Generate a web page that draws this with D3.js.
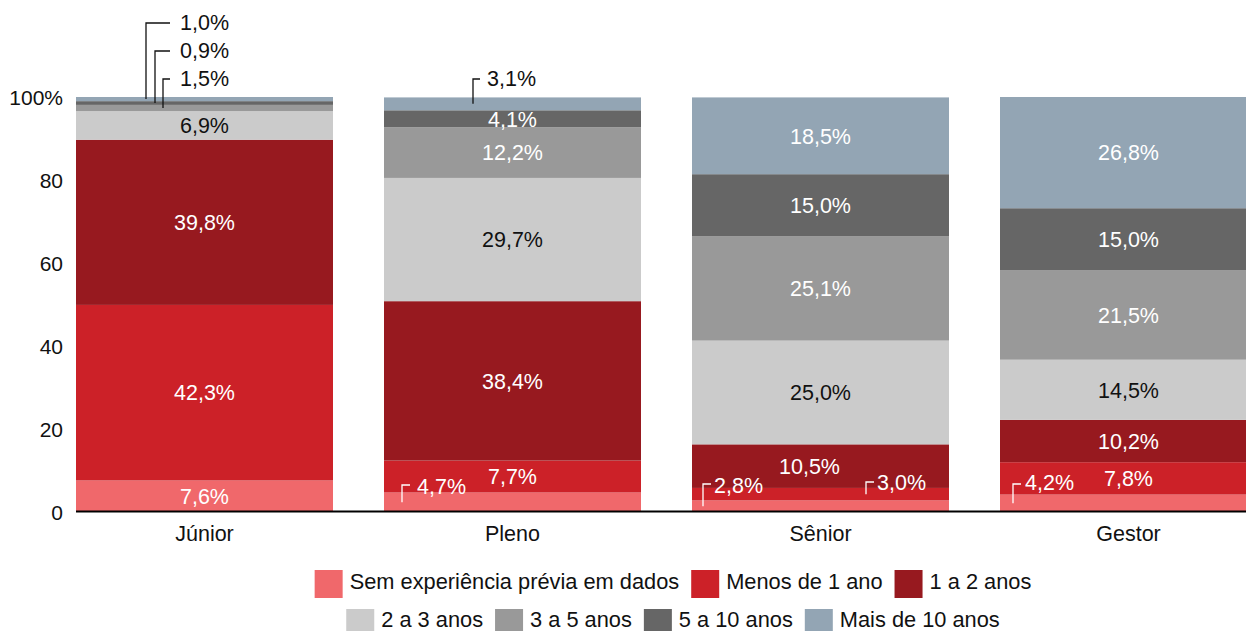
<!DOCTYPE html>
<html>
<head>
<meta charset="utf-8">
<script src="https://cdn.jsdelivr.net/npm/d3@7"></script>
<style>
    body { margin: 0; background: #fff; }
    svg { display: block; font-family: 'Liberation Sans', Arial, sans-serif; }
</style>
</head>
<body>
<script>
var categories = ['Júnior', 'Pleno', 'Sênior', 'Gestor'];
var seriesNames = ['Sem experiência prévia em dados', 'Menos de 1 ano', '1 a 2 anos',
    '2 a 3 anos', '3 a 5 anos', '5 a 10 anos', 'Mais de 10 anos'];
var semExperiencia = [7.6, 4.7, 2.8, 4.2];
var menosDe1Ano = [42.3, 7.7, 3.0, 7.8];
var de1a2Anos = [39.8, 38.4, 10.5, 10.2];
var de2a3Anos = [6.9, 29.7, 25.0, 14.5];
var de3a5Anos = [1.5, 12.2, 25.1, 21.5];
var de5a10Anos = [0.9, 4.1, 15.0, 15.0];
var maisDe10Anos = [1.0, 3.1, 18.5, 26.8];
var yTicks = [0, 20, 40, 60, 80, 100];

var colors = ['#f0686b', '#cc2128', '#97191f', '#cbcbcb', '#999999', '#666666', '#93a5b4'];
var labelColors = ['#fff', '#fff', '#fff', '#111', '#fff', '#fff', '#fff'];
var fs = '21.5px';

// small segments get a leader line instead of a centred label (layout only)
var callouts = {
    '4|Júnior': { lx: 163, ey: 79, ex: 170, tx: 180, ty: 86, color: '#111' },
    '5|Júnior': { lx: 155, ey: 51, ex: 170, tx: 180, ty: 58, color: '#111' },
    '6|Júnior': { lx: 146, ey: 23, ex: 170, tx: 180, ty: 30, color: '#111' },
    '6|Pleno': { lx: 473, ey: 79, ex: 480, tx: 487, ty: 86, color: '#111' },
    '0|Pleno': { lx: 402, ey: 485, ex: 410, tx: 417, ty: 494, color: '#fff' },
    '0|Sênior': { lx: 703, ey: 484, ex: 711, tx: 714, ty: 493, color: '#fff' },
    '1|Sênior': { lx: 866, ey: 482, ex: 874, tx: 877, ty: 490, color: '#fff' },
    '0|Gestor': { lx: 1013, ey: 484, ex: 1021, tx: 1025, ty: 490, color: '#fff' }
};
var labelShift = { '2|Sênior': -11 };

var allSeries = [semExperiencia, menosDe1Ano, de1a2Anos, de2a3Anos, de3a5Anos, de5a10Anos, maisDe10Anos];
var rows = categories.map(function(c, i) {
    var r = { cat: c };
    allSeries.forEach(function(s, k) { r[k] = s[i]; });
    return r;
});

var width = 1246, height = 631;
var svg = d3.select('body').append('svg').attr('width', width).attr('height', height);

var x = d3.scaleBand().domain(categories).range([76, 1257]).paddingInner(51 / 308).paddingOuter(0);
var y = d3.scaleLinear().domain([0, 100]).range([512, 97]);

var stack = d3.stack().keys(d3.range(7));
var layers = stack(rows);

var fmt = function(v) { return v.toFixed(1).replace('.', ',') + '%'; };

var g = svg.append('g');
layers.forEach(function(layer, k) {
    g.selectAll('rect.s' + k)
        .data(layer)
        .enter()
        .append('rect')
        .attr('x', function(d) { return x(d.data.cat); })
        .attr('y', function(d) { return y(d[1]); })
        .attr('width', x.bandwidth())
        .attr('height', function(d) { return y(d[0]) - y(d[1]); })
        .attr('fill', colors[k]);
});

// baseline
svg.append('line')
    .attr('x1', 76).attr('x2', width)
    .attr('y1', y(0) - 0.5).attr('y2', y(0) - 0.5)
    .attr('stroke', '#000').attr('stroke-width', 2);

// labels
layers.forEach(function(layer, k) {
    layer.forEach(function(d) {
        var key = k + '|' + d.data.cat;
        var v = d[1] - d[0];
        var c = callouts[key];
        if (c) {
            var mid = y((d[0] + d[1]) / 2);
            svg.append('path')
                .attr('d', 'M' + c.lx + ',' + mid + 'V' + c.ey + 'H' + c.ex)
                .attr('fill', 'none')
                .attr('stroke', c.color)
                .attr('stroke-width', 1.3);
            svg.append('text')
                .attr('x', c.tx).attr('y', c.ty)
                .attr('font-size', fs)
                .attr('fill', c.color)
                .text(fmt(v));
        } else {
            svg.append('text')
                .attr('x', x(d.data.cat) + x.bandwidth() / 2 + (labelShift[key] || 0))
                .attr('y', y((d[0] + d[1]) / 2))
                .attr('dy', '0.36em')
                .attr('text-anchor', 'middle')
                .attr('font-size', fs)
                .attr('fill', labelColors[k])
                .text(fmt(v));
        }
    });
});

// y axis labels
svg.selectAll('text.ytick')
    .data(yTicks)
    .enter()
    .append('text')
    .attr('class', 'ytick')
    .attr('x', 63)
    .attr('y', function(d) { return y(d); })
    .attr('dy', '0.36em')
    .attr('text-anchor', 'end')
    .attr('font-size', '21px')
    .attr('fill', '#111')
    .text(function(d) { return d === 100 ? '100%' : d; });

// x axis labels
svg.selectAll('text.xtick')
    .data(categories)
    .enter()
    .append('text')
    .attr('class', 'xtick')
    .attr('x', function(d) { return x(d) + x.bandwidth() / 2; })
    .attr('y', 541)
    .attr('text-anchor', 'middle')
    .attr('font-size', fs)
    .attr('fill', '#111')
    .text(function(d) { return d; });

// legend
function legendRow(idx, top, base) {
    var row = svg.append('g');
    var cx = 0;
    idx.forEach(function(k) {
        row.append('rect')
            .attr('x', cx).attr('y', top)
            .attr('width', 28).attr('height', 28)
            .attr('fill', colors[k]);
        var t = row.append('text')
            .attr('x', cx + 35).attr('y', base)
            .attr('font-size', '21.8px')
            .attr('fill', '#111')
            .text(seriesNames[k]);
        cx += 35 + t.node().getComputedTextLength() + 12;
    });
    cx -= 12;
    row.attr('transform', 'translate(' + (673 - cx / 2) + ',0)');
}
legendRow([0, 1, 2], 570, 589);
legendRow([3, 4, 5, 6], 609, 627);
</script>
</body>
</html>
